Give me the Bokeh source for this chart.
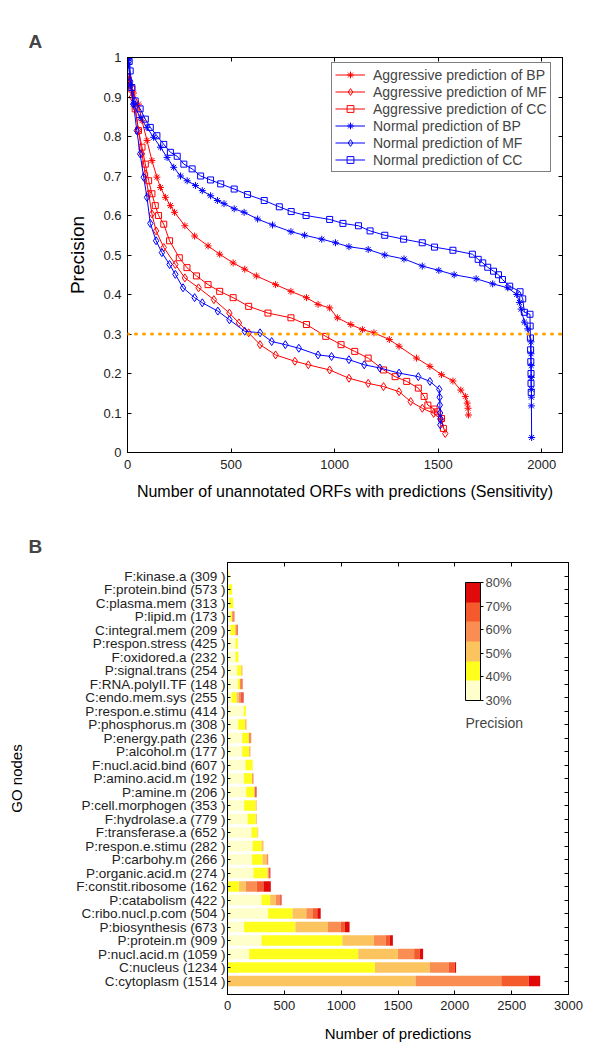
from bokeh.plotting import figure
from bokeh.models import (Span, Label, ColorBar, LinearColorMapper, FixedTicker,
                          NumeralTickFormatter, PrintfTickFormatter, LinearAxis,
                          ColumnDataSource)
from bokeh.embed import file_html
from bokeh.resources import INLINE

FONT = "Liberation Sans"

# ---------------- panel A data ----------------
abp_x = [3, 13, 29, 53, 70, 94, 118, 142, 159, 183, 207, 227, 277, 324, 389,
         445, 510, 566, 622, 715, 789, 864, 920, 976, 1013, 1078, 1134, 1190, 1264, 1311,
         1395, 1460, 1516, 1571, 1609, 1631, 1640, 1644, 1646]
abp_y = [0.95, 0.93, 0.91, 0.882, 0.84, 0.79, 0.739, 0.697, 0.671, 0.646, 0.625, 0.608, 0.574, 0.548, 0.523,
         0.502, 0.48, 0.464, 0.447, 0.425, 0.408, 0.392, 0.375, 0.366, 0.341, 0.324, 0.311, 0.303, 0.286, 0.269,
         0.239, 0.218, 0.197, 0.181, 0.158, 0.142, 0.125, 0.112, 0.095]

amf_x = [5, 13, 21, 37, 53, 70, 86, 102, 118, 138, 175, 231, 277, 343, 417,
         492, 538, 585, 640, 715, 808, 873, 976, 1069, 1162, 1236, 1311, 1367, 1423, 1478,
         1516, 1534]
amf_y = [0.95, 0.93, 0.90, 0.874, 0.815, 0.756, 0.705, 0.655, 0.604, 0.561, 0.519, 0.476, 0.442, 0.417, 0.387,
         0.353, 0.328, 0.303, 0.273, 0.247, 0.231, 0.222, 0.209, 0.188, 0.175, 0.167, 0.154, 0.129, 0.112, 0.099,
         0.082, 0.048]

acc_x = [5, 21, 37, 53, 70, 86, 102, 118, 134, 150, 175, 203, 250, 287, 333,
         389, 445, 510, 585, 678, 789, 864, 957, 1031, 1097, 1162, 1236, 1292, 1348, 1404,
         1432, 1450, 1480, 1497, 1516, 1525]
acc_y = [0.94, 0.92, 0.87, 0.815, 0.773, 0.73, 0.688, 0.655, 0.625, 0.60, 0.578, 0.536, 0.493, 0.468, 0.447,
         0.425, 0.408, 0.392, 0.37, 0.353, 0.341, 0.324, 0.294, 0.273, 0.256, 0.239, 0.209, 0.192, 0.18, 0.163,
         0.142, 0.12, 0.11, 0.103, 0.086, 0.061]

nbp_x = [2, 5, 15, 29, 61, 94, 126, 159, 191, 223, 256, 288, 328, 361, 401,
         434, 466, 515, 563, 628, 700, 789, 855, 938, 1004, 1069, 1162, 1242, 1335, 1423,
         1503, 1577, 1683, 1763, 1836, 1879, 1892, 1900, 1916, 1932, 1948, 1948, 1949, 1949, 1950,
         1950, 1950, 1951]
nbp_y = [1.0, 0.983, 0.93, 0.882, 0.848, 0.823, 0.798, 0.773, 0.747, 0.722, 0.70, 0.688, 0.676, 0.663, 0.65,
         0.638, 0.63, 0.617, 0.608, 0.591, 0.576, 0.559, 0.55, 0.54, 0.531, 0.521, 0.514, 0.50, 0.49, 0.472,
         0.461, 0.45, 0.44, 0.427, 0.417, 0.40, 0.38, 0.363, 0.33, 0.313, 0.28, 0.25, 0.22, 0.19, 0.16,
         0.14, 0.118, 0.038]

nmf_x = [2, 5, 13, 29, 45, 61, 78, 94, 110, 138, 166, 203, 231, 268, 324,
         361, 436, 492, 566, 640, 696, 762, 827, 920, 985, 1069, 1143, 1218, 1311, 1404,
         1460, 1505, 1507, 1508, 1509, 1510, 1510]
nmf_y = [1.0, 0.99, 0.94, 0.882, 0.815, 0.756, 0.697, 0.646, 0.58, 0.536, 0.506, 0.476, 0.451, 0.417, 0.392,
         0.379, 0.358, 0.336, 0.307, 0.303, 0.281, 0.273, 0.264, 0.247, 0.243, 0.235, 0.222, 0.214, 0.201, 0.192,
         0.18, 0.16, 0.14, 0.12, 0.10, 0.085, 0.07]

ncc_x = [3, 8, 13, 21, 37, 61, 86, 110, 142, 175, 207, 240, 272, 312, 353,
         401, 450, 515, 579, 660, 733, 790, 862, 976, 1040, 1115, 1171, 1242, 1333, 1423,
         1482, 1571, 1665, 1693, 1715, 1739, 1767, 1791, 1810, 1845, 1895, 1908, 1916, 1943, 1944,
         1945, 1946, 1947, 1948, 1948, 1949]
ncc_y = [1.0, 0.99, 0.966, 0.924, 0.89, 0.87, 0.844, 0.823, 0.802, 0.78, 0.76, 0.75, 0.73, 0.718, 0.70,
         0.69, 0.68, 0.667, 0.653, 0.638, 0.622, 0.61, 0.60, 0.59, 0.58, 0.574, 0.561, 0.55, 0.54, 0.531,
         0.52, 0.512, 0.502, 0.489, 0.48, 0.469, 0.459, 0.45, 0.438, 0.421, 0.407, 0.389, 0.355, 0.35, 0.32,
         0.29, 0.26, 0.23, 0.2, 0.175, 0.152]

threshold = 0.3

series = [
    ("Aggressive prediction of BP", abp_x, abp_y, "#FF0000", "asterisk", 7),
    ("Aggressive prediction of MF", amf_x, amf_y, "#FF0000", "diamond", 8),
    ("Aggressive prediction of CC", acc_x, acc_y, "#FF0000", "square", 6),
    ("Normal prediction of BP", nbp_x, nbp_y, "#0000FF", "asterisk", 7),
    ("Normal prediction of MF", nmf_x, nmf_y, "#0000FF", "diamond", 8),
    ("Normal prediction of CC", ncc_x, ncc_y, "#0000FF", "square", 6),
]

# ---------------- panel B data ----------------
go_nodes = ["F:kinase.a (309 )", "F:protein.bind (573 )", "C:plasma.mem (313 )", "P:lipid.m (173 )",
            "C:integral.mem (209 )", "P:respon.stress (425 )", "F:oxidored.a (232 )", "P:signal.trans (254 )",
            "F:RNA.polyII.TF (148 )", "C:endo.mem.sys (255 )", "P:respon.e.stimu (414 )", "P:phosphorus.m (308 )",
            "P:energy.path (236 )", "P:alcohol.m (177 )", "F:nucl.acid.bind (607 )", "P:amino.acid.m (192 )",
            "P:amine.m (206 )", "P:cell.morphogen (353 )", "F:hydrolase.a (779 )", "F:transferase.a (652 )",
            "P:respon.e.stimu (282 )", "P:carbohy.m (266 )", "P:organic.acid.m (274 )", "F:constit.ribosome (162 )",
            "P:catabolism (422 )", "C:ribo.nucl.p.com (504 )", "P:biosynthesis (673 )", "P:protein.m (909 )",
            "P:nucl.acid.m (1059 )", "C:nucleus (1234 )", "C:cytoplasm (1514 )"]
p30 = [4, 12, 15, 25, 26, 70, 70, 85, 91, 35, 144, 94, 129, 129, 158, 144, 164, 146, 176, 211,
       220, 214, 228, 0, 299, 357, 146, 299, 190, 0, 0]
p40 = [6, 29, 35, 16, 44, 21, 26, 35, 18, 44, 18, 59, 59, 59, 64, 73, 73, 102, 73, 53,
       79, 94, 123, 102, 76, 214, 451, 711, 960, 1297, 0]
p50 = [0, 0, 0, 0, 0, 0, 0, 12, 0, 20, 0, 15, 0, 15, 0, 0, 0, 9, 9, 6,
       18, 38, 10, 59, 50, 123, 287, 278, 349, 483, 1654]
p60 = [0, 0, 0, 10, 9, 0, 0, 0, 12, 15, 0, 0, 21, 0, 0, 12, 5, 0, 0, 0,
       0, 12, 0, 97, 32, 58, 111, 102, 143, 164, 755]
p70 = [0, 0, 0, 10, 12, 0, 0, 0, 12, 18, 0, 0, 0, 0, 0, 0, 5, 0, 0, 0,
       0, 0, 8, 58, 10, 38, 38, 38, 50, 55, 240]
p80 = [0, 0, 0, 0, 0, 0, 0, 0, 0, 9, 0, 0, 0, 0, 0, 0, 8, 0, 0, 0,
       0, 0, 8, 65, 8, 30, 41, 27, 29, 12, 102]
precision_levels = [30, 40, 50, 60, 70, 80]
band_colors = ["#FFFFCC", "#FFFF1E", "#FCC45E", "#F98D52", "#F45A2C", "#E10A0A"]


def style_axis(ax, size="13px"):
    ax.axis_line_color = "black"
    ax.major_tick_line_color = "black"
    ax.major_tick_in = 4
    ax.major_tick_out = 0
    ax.minor_tick_line_color = None
    ax.major_label_text_font = FONT
    ax.major_label_text_font_size = size
    ax.major_label_text_color = "#222222"
    ax.axis_label_text_font = FONT
    ax.axis_label_text_font_style = "normal"
    ax.axis_label_text_color = "black"


def hidden_axis(ticks):
    # tick marks only, labels not drawn
    ax = LinearAxis(ticker=FixedTicker(ticks=ticks))
    style_axis(ax)
    ax.major_label_text_color = None
    ax.major_label_text_font_size = "8px"
    ax.major_label_standoff = 0
    return ax


def panel_letter(p, letter, offset):
    p.title.text = letter
    p.title.align = "left"
    p.title.vertical_align = "middle"
    p.title.offset = offset
    p.title.text_font = FONT
    p.title.text_font_style = "bold"
    p.title.text_font_size = "19px"


# ---------------- panel A ----------------
p1 = figure(width=600, height=513, x_range=(0, 2100), y_range=(0, 1),
            output_backend="svg", toolbar_location=None,
            min_border_left=127, min_border_right=38, min_border_top=57, min_border_bottom=61)
p1.grid.visible = False
p1.outline_line_color = "black"

xt = [0, 500, 1000, 1500, 2000]
yt = [0, 0.1, 0.2, 0.3, 0.4, 0.5, 0.6, 0.7, 0.8, 0.9, 1]
p1.xaxis.ticker = FixedTicker(ticks=xt)
p1.yaxis.ticker = FixedTicker(ticks=yt)
p1.yaxis.formatter = NumeralTickFormatter(format="0.[0]")
for ax in p1.xaxis + p1.yaxis:
    style_axis(ax)
p1.xaxis.axis_label = "Number of unannotated ORFs with predictions (Sensitivity)"
p1.xaxis.axis_label_text_font_size = "16px"
p1.xaxis.axis_label_standoff = 11
p1.xaxis.major_label_standoff = 7
p1.yaxis.axis_label = "Precision"
p1.yaxis.axis_label_text_font_size = "19px"
p1.yaxis.axis_label_standoff = 12
p1.yaxis.major_label_standoff = 6
p1.add_layout(hidden_axis(xt), "above")
p1.add_layout(hidden_axis(yt), "right")

p1.add_layout(Span(location=threshold, dimension="width", line_color="#FFA500",
                   line_width=3, line_dash="1 7", line_cap="round"))

for name, xs, ys, col, mk, sz in series:
    p1.line(xs, ys, line_color=col, line_width=1, legend_label=name)
    p1.scatter(xs, ys, marker=mk, size=sz, line_color=col, fill_color=None,
               line_width=1, legend_label=name)

lg = p1.legend[0]
lg.location = (204, 280)
lg.padding = 3
lg.spacing = 0
lg.label_height = 17
lg.glyph_height = 17
lg.glyph_width = 30
lg.label_standoff = 8
lg.label_text_font = FONT
lg.label_text_font_size = "14px"
lg.border_line_color = "black"
lg.border_line_width = 1
lg.background_fill_alpha = 1

panel_letter(p1, "A", 28 - 127)

# ---------------- panel B ----------------
positions = list(range(len(go_nodes), 0, -1))
bands = ["p30", "p40", "p50", "p60", "p70", "p80"]
src = ColumnDataSource(dict(pos=positions, p30=p30, p40=p40, p50=p50,
                            p60=p60, p70=p70, p80=p80))

p2 = figure(width=600, height=545, x_range=(0, 3000), y_range=(0, len(go_nodes) + 1),
            output_backend="svg", toolbar_location=None,
            min_border_left=227, min_border_right=32, min_border_top=49, min_border_bottom=64)
p2.grid.visible = False
p2.outline_line_color = "black"
p2.hbar_stack(bands, y="pos", height=0.76, color=band_colors, line_color=None, source=src)

bx = [0, 500, 1000, 1500, 2000, 2500, 3000]
p2.xaxis.ticker = FixedTicker(ticks=bx)
p2.yaxis.ticker = FixedTicker(ticks=positions)
p2.yaxis.major_label_overrides = {pos: lab for pos, lab in zip(positions, go_nodes)}
for ax in p2.xaxis + p2.yaxis:
    style_axis(ax)
p2.yaxis.major_label_text_font_size = "13.5px"
p2.yaxis.major_tick_in = 3
p2.yaxis.major_label_standoff = 2
p2.yaxis.axis_label = "GO nodes"
p2.yaxis.axis_label_text_font_size = "15px"
p2.yaxis.axis_label_standoff = 48
p2.xaxis.axis_label = "Number of predictions"
p2.xaxis.axis_label_text_font_size = "15px"
p2.xaxis.axis_label_standoff = 12
p2.xaxis.major_label_standoff = 6
p2.add_layout(hidden_axis(bx), "above")
p2.add_layout(hidden_axis(positions), "right")

mapper = LinearColorMapper(palette=band_colors, low=precision_levels[0], high=precision_levels[-1])
cb = ColorBar(color_mapper=mapper, ticker=FixedTicker(ticks=precision_levels),
              formatter=PrintfTickFormatter(format="%d%%"), orientation="vertical",
              width=15, height=118, location=(238, 294), padding=0,
              bar_line_color="black", major_tick_line_color="black",
              major_tick_in=0, major_tick_out=3, label_standoff=2,
              major_label_text_font=FONT, major_label_text_font_size="13px",
              background_fill_color=None, border_line_color=None)
p2.add_layout(cb)
p2.add_layout(Label(x=238, y=272, x_units="screen", y_units="screen", text="Precision",
                    text_font=FONT, text_font_size="14px", text_baseline="middle"))
panel_letter(p2, "B", 28 - 227)

# two separate roots, stacked on the page, so their frames are not aligned
open("out.html", "w").write(file_html([p1, p2], INLINE))
